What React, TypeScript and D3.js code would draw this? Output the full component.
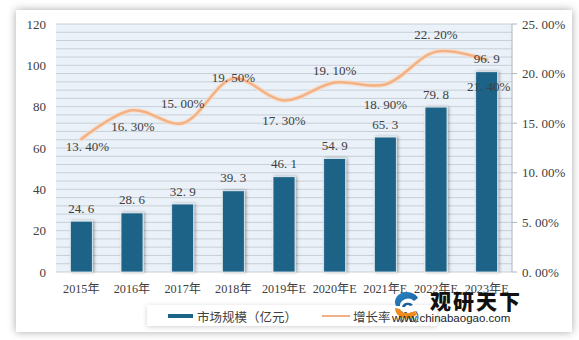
import React from "react";
import * as d3 from "d3";

const categories = ["2015年", "2016年", "2017年", "2018年", "2019年E", "2020年E", "2021年E", "2022年E", "2023年E"];
const marketSize = [24.6, 28.6, 32.9, 39.3, 46.1, 54.9, 65.3, 79.8, 96.9];
const growthRate = [13.4, 16.3, 15.0, 19.5, 17.3, 19.1, 18.9, 22.2, 21.4];
const leftTicks = [0, 20, 40, 60, 80, 100, 120];
const rightTicks = [0, 5, 10, 15, 20, 25];
const rateLabelDy = [7, 16, -20, -1, 20, -12, 20, -17, 27];
const rateLabelDx = [6, 1, 0, 0, 0, 0, 0, 0, 2];

const W = 579;
const H = 340;
const X0 = 56;
const X1 = 512;
const YT = 24;
const YB = 272;

export default function App() {
  const x = d3.scaleBand<string>().domain(categories).range([X0, X1]).paddingInner(0.566).paddingOuter(0.283);
  const yL = d3.scaleLinear().domain([0, 120]).range([YB, YT]);
  const yR = d3.scaleLinear().domain([0, 25]).range([YB, YT]);
  const cx = (c: string) => (x(c) as number) + x.bandwidth() / 2;
  const minor = d3.range(0, 121, 4);
  const pts: [number, number][] = categories.map((c, i) => [cx(c), yR(growthRate[i])]);
  const line = d3.line().curve(d3.curveCatmullRom.alpha(0.5))(pts) || "";
  const numFont = "'Liberation Serif', 'Noto Sans CJK SC', serif";

  return (
    <svg width={W} height={H} style={{ position: "absolute", left: 0, top: 0 }} xmlns="http://www.w3.org/2000/svg">
      <defs>
        <filter id="cardShadow" x="-5%" y="-5%" width="110%" height="110%">
          <feDropShadow dx="0" dy="0" stdDeviation="4" floodColor="#000" floodOpacity="0.35" />
        </filter>
        <filter id="barShadow" x="-30%" y="-10%" width="160%" height="120%">
          <feDropShadow dx="1.5" dy="0" stdDeviation="1.5" floodColor="#000" floodOpacity="0.35" />
        </filter>
        <filter id="legShadow" x="-5%" y="-30%" width="110%" height="160%">
          <feDropShadow dx="0" dy="1" stdDeviation="2.5" floodColor="#000" floodOpacity="0.18" />
        </filter>
        <linearGradient id="logoA" x1="0" y1="0" x2="1" y2="1">
          <stop offset="0" stopColor="#2a86c8" />
          <stop offset="1" stopColor="#1b5f9a" />
        </linearGradient>
      </defs>
      <rect x={0} y={0} width={W} height={H} fill="#ffffff" />
      <rect x={16} y={10} width={556} height={322} fill="#ffffff" filter="url(#cardShadow)" />

      {/* plot background */}
      <rect x={X0} y={YT} width={X1 - X0} height={YB - YT} fill="#eaf1f8" />
      {minor.map((v) => (
        <line key={v} x1={X0} x2={X1} y1={yL(v)} y2={yL(v)} stroke="#c8cfd6" strokeWidth={1} />
      ))}

      {/* bars */}
      {categories.map((c, i) => (
        <rect
          key={c}
          x={x(c)}
          y={yL(marketSize[i])}
          width={x.bandwidth()}
          height={YB - yL(marketSize[i])}
          fill="#1b6387"
          stroke="#e9f0f5"
          strokeWidth={0.8}
          filter="url(#barShadow)"
        />
      ))}

      {/* right axis */}
      <line x1={X1} x2={X1} y1={YT} y2={YB} stroke="#b0b6bc" strokeWidth={1} />
      {rightTicks.map((t) => (
        <line key={t} x1={X1} x2={X1 + 5} y1={yR(t)} y2={yR(t)} stroke="#b0b6bc" strokeWidth={1} />
      ))}
      {rightTicks.map((t) => (
        <text key={t} x={522} y={yR(t)} dominantBaseline="central" fontSize={13} fontFamily={numFont} fill="#404040">
          {t.toFixed(2).replace(".", ". ")}%
        </text>
      ))}
      {leftTicks.map((t) => (
        <text key={t} x={46} y={yL(t)} textAnchor="end" dominantBaseline="central" fontSize={13} fontFamily={numFont} fill="#404040">
          {t}
        </text>
      ))}

      {/* x labels */}
      {categories.map((c) => (
        <text key={c} x={cx(c)} y={289} textAnchor="middle" dominantBaseline="central" fontSize={12.2} fontFamily={numFont} fill="#404040">
          {c}
        </text>
      ))}

      {/* growth line */}
      <path d={line} fill="none" stroke="#f8dcc6" strokeWidth={5} strokeLinecap="round" opacity={0.7} />
      <path d={line} fill="none" stroke="#f4b183" strokeWidth={2.5} strokeLinecap="round" />

      {/* bar labels */}
      {categories.map((c, i) => (
        <text key={c} x={cx(c)} y={yL(marketSize[i]) - 13} textAnchor="middle" dominantBaseline="central" fontSize={13} fontFamily={numFont} fill="#404040">
          {marketSize[i].toFixed(1).replace(".", ". ")}
        </text>
      ))}

      {/* rate labels */}
      {categories.map((c, i) => (
        <text
          key={c}
          x={cx(c) + rateLabelDx[i]}
          y={yR(growthRate[i]) + rateLabelDy[i]}
          textAnchor="middle"
          dominantBaseline="central"
          fontSize={13}
          fontFamily={numFont}
          fill="#404040"
        >
          {growthRate[i].toFixed(2).replace(".", ". ")}%
        </text>
      ))}

      {/* legend */}
      <rect x={147} y={305} width={290} height={21} fill="#ffffff" filter="url(#legShadow)" />
      <rect x={168} y={314} width={25} height={4} fill="#1b6387" />
      <text x={197} y={316} dominantBaseline="central" fontSize={12.5} fontFamily="'Noto Sans CJK SC', sans-serif" fill="#404040">
        市场规模（亿元）
      </text>
      <line x1={322} x2={350} y1={316} y2={316} stroke="#f4b183" strokeWidth={2} />
      <text x={353} y={316} dominantBaseline="central" fontSize={12.5} fontFamily="'Noto Sans CJK SC', sans-serif" fill="#404040">
        增长率（%）
      </text>

      {/* watermark */}
      <g>
        <path d="M396,306 a12,10 0 0,1 22,-8 l-4,3 a8,7 0 0,0 -14,5 z" fill="url(#logoA)" />
        <path d="M395,308 a12,10 0 0,0 22,6 l-3,-3 a8,6 0 0,1 -14,-2 z" fill="#f08c1e" />
        <path d="M402,307 a6,5 0 0,1 11,-2 l-3,1 a3,3 0 0,0 -5,1 z" fill="#1b5f9a" />
        <text x={430} y={300} dominantBaseline="central" fontSize={21} fontWeight={900} fontFamily="'Noto Sans CJK SC', sans-serif" fill="#111" letterSpacing={2}>
          观研天下
        </text>
        <text x={392} y={318} dominantBaseline="central" fontSize={11.5} fontFamily="'Liberation Sans', Arial, sans-serif" fill="#222">
          www.chinabaogao.com
        </text>
      </g>
    </svg>
  );
}
